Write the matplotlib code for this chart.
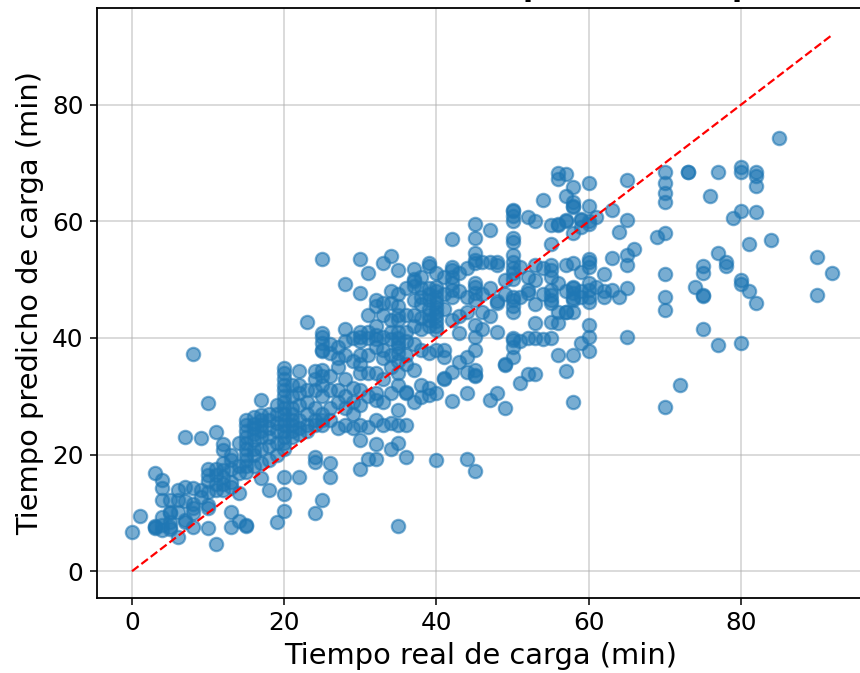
"""Tiempo real vs predicho de carga: scatter with the identity line."""

import numpy as np
import matplotlib
matplotlib.use("Agg")
import matplotlib.pyplot as plt

# real charging time (min), one entry per column of points
real_min = [0, 1, 3, 4, 5, 6, 7, 8, 9, 10, 11, 12, 13, 14, 15, 16, 17, 18, 19,
            20, 21, 22, 23, 24, 25, 26, 27, 28, 29, 30, 31, 32, 33, 34, 35, 36,
            37, 38, 39, 40, 41, 42, 43, 44, 45, 46, 47, 48, 49, 50, 51, 52, 53,
            54, 55, 56, 57, 58, 59, 60, 61, 62, 63, 64, 65, 66, 69, 70, 72, 73,
            74, 75, 76, 77, 78, 79, 80, 81, 82, 84, 85, 90, 92]

# predicted charging time (min) for each real_min column
pred_min = [
    [6.7],
    [9.5],
    [16.9, 7.4, 7.6, 7.8],
    [15.7, 14.2, 12.2, 9.3, 7.0, 8.0],
    [12.2, 10.2, 9.9, 7.3, 7.6, 8.5],
    [14.0, 12.2, 10.2, 5.9],
    [23.0, 14.5, 8.7, 8.5, 12.0],
    [37.3, 14.2, 11.6, 10.8, 9.9, 7.6],
    [22.8, 13.9, 12.8],
    [28.8, 17.6, 16.5, 13.6, 11.3, 10.8, 7.4, 15.5],
    [23.9, 17.6, 16.5, 13.9, 4.6, 15.0],
    [21.9, 20.8, 18.5, 17.3, 16.2, 15.0, 13.9],
    [19.9, 19.0, 15.3, 14.5, 10.2, 7.6, 17.5],
    [22.0, 16.8, 13.4, 8.6, 18.0],
    [25.0, 24.0, 23.0, 22.0, 21.0, 20.0, 19.0, 18.0, 17.0, 7.9, 7.8, 26.0],
    [26.5, 25.3, 24.5, 23.5, 22.5, 21.0, 20.0, 18.0],
    [29.3, 26.8, 26.0, 25.0, 24.0, 23.0, 21.0, 18.5, 16.0],
    [27.0, 26.0, 24.5, 23.0, 21.5, 19.0, 14.0],
    [28.5, 27.0, 25.5, 24.0, 22.0, 8.5, 20.0],
    [34.8, 34.0, 33.0, 32.0, 31.0, 30.0, 29.0, 28.0, 27.0, 26.0, 25.0, 24.0,
     23.0, 22.0, 21.0, 16.2, 13.3, 10.3],
    [32.0, 30.0, 28.0, 27.0, 26.0, 25.0, 24.0, 23.0],
    [34.3, 32.0, 30.5, 28.5, 26.0, 24.5, 23.5, 16.2],
    [42.7, 31.0, 29.0, 27.0, 25.0, 24.0],
    [34.3, 33.0, 31.0, 28.0, 26.0, 25.0, 19.6, 18.8, 9.9],
    [53.5, 40.8, 40.2, 39.1, 38.0, 37.7, 34.5, 33.5, 32.0, 30.0, 27.0, 26.0,
     25.0, 12.2],
    [39.0, 37.5, 33.5, 31.0, 28.0, 26.0, 18.5, 16.2],
    [38.5, 36.5, 35.0, 31.0, 29.0, 24.5],
    [49.3, 41.6, 39.5, 37.0, 33.0, 30.0, 28.0, 25.0],
    [40.0, 36.0, 31.5, 29.0, 27.0, 24.5],
    [53.5, 47.8, 41.0, 40.2, 39.5, 37.0, 35.5, 34.0, 31.0, 28.5, 25.0, 22.5,
     17.6],
    [51.1, 44.0, 41.0, 40.0, 37.0, 34.0, 30.0, 24.8, 19.3],
    [46.5, 45.4, 42.0, 40.5, 39.8, 38.5, 34.0, 30.5, 29.4, 26.0, 21.9, 19.2],
    [52.8, 46.0, 44.0, 40.2, 38.0, 36.5, 33.0, 29.1, 25.0],
    [54.1, 48.0, 46.0, 43.0, 41.0, 39.8, 37.0, 35.0, 30.5, 25.5, 21.0],
    [51.7, 47.5, 45.5, 44.0, 43.0, 41.0, 40.0, 39.2, 38.4, 37.4, 36.0, 34.0,
     32.0, 27.6, 25.0, 22.0, 7.7],
    [48.5, 44.0, 41.0, 39.5, 37.0, 35.5, 30.8, 30.6, 25.0, 19.5],
    [51.9, 50.2, 49.7, 49.0, 46.5, 44.0, 42.0, 39.0, 34.5, 29.1],
    [50.5, 48.5, 47.0, 45.8, 43.5, 41.5, 38.0, 32.0, 29.9],
    [52.8, 52.4, 48.5, 47.5, 46.5, 45.0, 44.0, 43.0, 42.0, 37.5, 31.4, 30.2],
    [51.2, 48.8, 48.0, 47.0, 46.2, 45.3, 44.5, 43.7, 42.9, 42.1, 41.4, 38.0,
     30.6, 19.0],
    [50.5, 47.5, 45.0, 38.0, 36.8, 33.2, 33.0],
    [56.9, 52.2, 51.7, 50.5, 49.4, 48.2, 47.1, 43.0, 34.2, 29.2],
    [51.1, 48.0, 43.7, 40.8, 35.8],
    [52.0, 47.0, 44.5, 36.8, 34.2, 30.5, 19.3],
    [59.5, 57.2, 54.5, 53.4, 52.8, 49.4, 48.8, 47.7, 46.5, 42.2, 40.2, 38.0,
     34.5, 33.7, 33.4, 17.2],
    [53.1, 47.5, 44.5, 41.6],
    [58.5, 53.1, 48.5, 43.7, 29.4],
    [53.1, 52.5, 46.3, 46.0, 41.0, 30.5],
    [50.0, 47.5, 35.5, 35.3, 28.0],
    [62.0, 61.7, 61.0, 60.0, 57.1, 56.5, 54.2, 53.1, 52.0, 51.1, 50.2, 47.0,
     46.5, 45.4, 44.5, 39.7, 40.0, 38.5, 36.8],
    [52.2, 47.0, 39.5, 32.2],
    [60.8, 50.5, 48.2, 47.8, 40.0, 33.8],
    [60.0, 52.5, 50.0, 45.8, 42.5, 40.0, 33.8],
    [63.7, 52.0, 47.5, 39.8],
    [59.4, 56.1, 52.5, 51.7, 50.5, 48.2, 47.4, 46.5, 46.0, 42.8, 40.0],
    [68.3, 67.3, 59.5, 59.4, 49.4, 44.5, 42.5, 37.0],
    [68.1, 64.4, 60.3, 60.1, 52.5, 48.0, 44.5, 44.5, 34.3],
    [65.9, 63.3, 62.7, 62.5, 58.0, 52.9, 48.8, 48.5, 47.7, 46.8, 46.5, 44.4,
     37.0, 29.1],
    [60.3, 60.4, 59.1, 51.4, 48.0, 47.1, 39.1],
    [66.5, 62.7, 60.0, 59.6, 53.6, 53.0, 52.2, 49.4, 48.2, 47.1, 46.2, 42.2,
     40.2, 37.7],
    [60.8, 48.8],
    [51.0, 48.0, 47.1],
    [62.0, 53.8, 48.2],
    [58.1, 47.1],
    [67.1, 60.2, 54.2, 52.5, 48.5, 40.1],
    [55.3],
    [57.4],
    [68.4, 66.5, 64.8, 63.4, 58.0, 50.9, 47.1, 44.8, 28.1],
    [31.9],
    [68.4, 68.4],
    [48.7],
    [52.4, 51.2, 47.4, 47.2, 41.5],
    [64.4],
    [68.4, 54.5, 38.8],
    [53.0, 52.4],
    [60.5],
    [69.4, 68.4, 61.7, 50.0, 49.2, 39.1],
    [56.1, 48.1],
    [68.4, 67.8, 66.1, 61.6, 46.0],
    [56.8],
    [74.3],
    [53.9, 47.4],
    [51.2],
]

x_ticks = [0, 20, 40, 60, 80]
y_ticks = [0, 20, 40, 60, 80]

x = np.repeat(real_min, [len(col) for col in pred_min])
y = np.concatenate(pred_min)

fig = plt.figure(figsize=(8.6, 6.73), dpi=100)
ax = fig.add_axes([97 / 860, 1 - 598 / 673, 768 / 860, 590 / 673])

ax.scatter(x, y, s=92, color="#1f77b4", alpha=0.6, linewidths=1.6, zorder=2)
ax.plot([0, max(real_min)], [0, max(real_min)], "--", color="red", lw=1.6, zorder=3)

ax.set_xlim(-4.6, 96.3)
ax.set_ylim(-4.6, 96.6)
ax.set_xticks(x_ticks)
ax.set_yticks(y_ticks)
ax.grid(True, color="#b0b0b0", alpha=0.5, lw=1.3)
ax.set_axisbelow(True)
ax.tick_params(labelsize=17.8, width=1.1, length=4.7, pad=5)
for spine in ax.spines.values():
    spine.set_linewidth(1.3)
ax.set_xlabel("Tiempo real de carga (min)", fontsize=20.8, labelpad=5)
ax.set_ylabel("Tiempo predicho de carga (min)", fontsize=20.8, labelpad=6)

# the title is cropped by the image edge, only two descenders survive
for px in (533, 742):
    fig.text(px / 860, 1 + 4 / 673, "p", fontsize=21, fontweight="bold",
             ha="center", va="baseline", color="black")

fig.savefig("out.png", dpi=100)
